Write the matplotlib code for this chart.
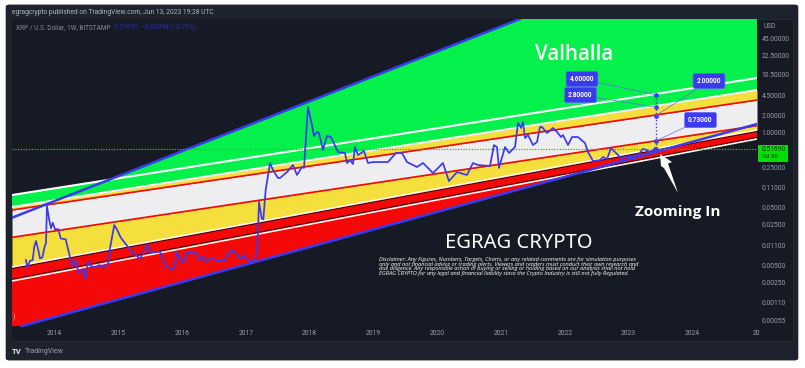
import matplotlib
matplotlib.use('Agg')
import matplotlib.pyplot as plt
from matplotlib.patches import FancyBboxPatch, Rectangle

# weekly close
years = [2013.553, 2013.574, 2013.616, 2013.658, 2013.683, 2013.710, 2013.746, 2013.773, 2013.809, 2013.851,
         2013.867, 2013.882, 2013.918, 2013.945, 2013.972, 2014.008, 2014.060, 2014.097, 2014.176, 2014.216,
         2014.254, 2014.285, 2014.337, 2014.373, 2014.451, 2014.478, 2014.530, 2014.567, 2014.635, 2014.702,
         2014.776, 2014.843, 2014.870, 2014.937, 2014.984, 2015.038, 2015.132, 2015.210, 2015.340, 2015.392,
         2015.455, 2015.497, 2015.654, 2015.732, 2015.837, 2015.889, 2015.915, 2016.019, 2016.072, 2016.202,
         2016.270, 2016.332, 2016.386, 2016.437, 2016.542, 2016.672, 2016.708, 2016.787, 2016.881, 2016.934,
         2016.959, 2017.038, 2017.127, 2017.179, 2017.205, 2017.248, 2017.273, 2017.310, 2017.378, 2017.425,
         2017.503, 2017.534, 2017.644, 2017.738, 2017.801, 2017.879, 2017.911, 2017.973, 2018.036, 2018.067,
         2018.114, 2018.146, 2018.208, 2018.271, 2018.334, 2018.444, 2018.553, 2018.585, 2018.632, 2018.679,
         2018.710, 2018.757, 2018.851, 2018.914, 2018.992, 2019.227, 2019.353, 2019.447, 2019.525, 2019.682,
         2019.776, 2019.933, 2020.088, 2020.183, 2020.309, 2020.465, 2020.559, 2020.638, 2020.826, 2020.889,
         2020.936, 2020.967, 2021.061, 2021.124, 2021.218, 2021.265, 2021.312, 2021.343, 2021.375, 2021.422,
         2021.500, 2021.563, 2021.610, 2021.641, 2021.720, 2021.813, 2021.876, 2021.939, 2021.971, 2022.049,
         2022.112, 2022.205, 2022.315, 2022.362, 2022.440, 2022.550, 2022.597, 2022.660, 2022.723, 2022.754,
         2022.832, 2022.879, 2023.052, 2023.146, 2023.224, 2023.286, 2023.334, 2023.412]
prices = [0.00610, 0.00456, 0.00591, 0.00610, 0.0104, 0.0131, 0.00912, 0.00650, 0.00677, 0.0110,
          0.0119, 0.0533, 0.0304, 0.0218, 0.0273, 0.0210, 0.0210, 0.0145, 0.0140, 0.00912,
          0.00610, 0.00481, 0.00610, 0.00367, 0.00409, 0.00281, 0.00582, 0.00481, 0.00456, 0.00500,
          0.00456, 0.00534, 0.00974, 0.0249, 0.0203, 0.0151, 0.0110, 0.00852, 0.00650, 0.00797,
          0.0114, 0.00818, 0.00852, 0.00500, 0.00419, 0.00462, 0.00852, 0.00534, 0.00818, 0.00852,
          0.00610, 0.00696, 0.00567, 0.00650, 0.00610, 0.00591, 0.00776, 0.00912, 0.00696, 0.00650,
          0.00745, 0.00610, 0.00567, 0.00852, 0.0634, 0.0325, 0.0312, 0.101, 0.299, 0.226,
          0.164, 0.164, 0.208, 0.276, 0.185, 0.255, 0.245, 2.83, 1.37, 0.883,
          1.04, 0.996, 0.504, 0.883, 0.848, 0.465, 0.447, 0.299, 0.337, 0.287,
          0.568, 0.412, 0.484, 0.299, 0.311, 0.311, 0.447, 0.447, 0.311, 0.255,
          0.299, 0.200, 0.299, 0.145, 0.208, 0.185, 0.299, 0.276, 0.265, 0.615,
          0.568, 0.245, 0.568, 0.447, 0.568, 1.49, 1.22, 1.55, 0.815, 0.919,
          0.615, 0.694, 1.27, 1.27, 0.996, 1.22, 1.04, 0.848, 0.919, 0.615,
          0.848, 0.848, 0.667, 0.465, 0.324, 0.337, 0.380, 0.351, 0.545, 0.504,
          0.412, 0.366, 0.396, 0.412, 0.524, 0.504, 0.447, 0.545]

left_year, right_year = 2013.334, 2025.011
low_price, top_price = 0.000247, 96.5

# channel lines, price at the left and right edge of the plot
white1 = [0.0828, 9.04]
white2 = [0.0512, 5.59]
red1 = [0.0454, 3.74]
red2 = [0.01518, 1.34]
white3 = [0.00461, 1.123]
black3 = [0.00434, 1.057]
black4 = [0.00284, 0.832]
white4 = [0.00263, 0.783]

upper_blue_years = [2013.334, 2021.296]
upper_blue_prices = [0.0333, 96.5]
lower_blue_years = [2013.491, 2025.011]
lower_blue_prices = [0.000432, 1.429]

# where the top white line meets the upper channel line / white4 meets the lower one
green_kink = (2014.854, 0.151)
red_kink = (2022.268, 0.206)

target_year = 2023.428
target_prices = [4.6, 2.8, 2.0, 0.73, 0.5169]
target_labels = ['4.60000', '2.80000', '2.00000', '0.73000']
target_label_px = [(582, 79), (580.5, 95), (709, 81), (700.5, 120)]

arrow_years = [2023.491, 2023.679, 2023.616, 2023.773, 2023.553, 2023.506]
arrow_prices = [0.429, 0.311, 0.293, 0.0897, 0.245, 0.265]

price_ticks = [45, 22.5, 10.5, 4.5, 2, 1, 0.25, 0.11, 0.05, 0.025, 0.011, 0.005, 0.0025, 0.0011, 0.00055]
price_labels = ['45.00000', '22.50000', '10.50000', '4.50000', '2.00000', '1.00000', '0.25000', '0.11000',
                '0.05000', '0.02500', '0.01100', '0.00500', '0.00250', '0.00110', '0.00055']
year_ticks = [2014, 2015, 2016, 2017, 2018, 2019, 2020, 2021, 2022, 2023, 2024, 2025]
year_labels = ['2014', '2015', '2016', '2017', '2018', '2019', '2020', '2021', '2022', '2023', '2024', '20']
last_price = 0.5169

disclaimer = ('Disclaimer: Any Figures, Numbers, Targets, Charts, or any related comments are for simulation purposes\n'
              'only and not financial advice or trading alerts. Viewers and readers must conduct their own research and\n'
              'due diligence. Any responsible action in buying or selling or holding based on our analysis shall not hold\n'
              'EGRAG CRYPTO for any legal and financial liability since the Crypto Industry is still not fully Regulated.')

W, H = 805, 368
BLUE = '#3a3af0'
CARD = '#1e222d'
PANEL = '#161a25'
TICK = '#9a9da6'


def fx(x):
    return x / W


def fy(y):
    return 1 - y / H


plt.rcParams['font.family'] = ['Roboto', 'DejaVu Sans']
fig = plt.figure(figsize=(W / 100, H / 100), dpi=100, facecolor='white')

card = FancyBboxPatch((fx(8), fy(359)), fx(788), 353 / H, boxstyle='round,pad=0.002,rounding_size=0.004',
                      transform=fig.transFigure, facecolor=CARD, edgecolor=CARD, zorder=-3)
fig.add_artist(card)
fig.add_artist(Rectangle((fx(12), fy(341)), fx(781), 322 / H, transform=fig.transFigure,
                         facecolor=PANEL, edgecolor='#2a2e39', linewidth=0.5, zorder=-2))

ax = fig.add_axes([fx(12), fy(340), fx(745), 321 / H])
ax.set_facecolor(PANEL)
ax.set_yscale('log')
ax.set_xlim(left_year, right_year)
ax.set_ylim(low_price, top_price)
edges = [left_year, right_year]

# bands, top to bottom
ax.fill([left_year, green_kink[0], upper_blue_years[1], right_year, right_year, left_year],
        [white1[0], green_kink[1], top_price, top_price, white2[1], white2[0]], color='#04f04a', lw=0, zorder=1)
ax.fill_between(edges, white2, red1, color='#f5df3c', lw=0, zorder=2)
ax.fill_between(edges, red1, red2, color='#eeeef1', lw=0, zorder=2)
ax.fill_between(edges, red2, white3, color='#f5df3c', lw=0, zorder=2)
ax.fill([left_year, right_year, right_year, red_kink[0], lower_blue_years[0], left_year],
        [white3[0], white3[1], white4[1], red_kink[1], lower_blue_prices[0], lower_blue_prices[0]],
        color='#f40808', lw=0, zorder=2)

for line, color, width in [(white1, 'white', 1.5), (white2, 'white', 1.4), (red1, '#f40808', 1.2),
                           (red2, '#f40808', 1.2), (black3, '#101010', 0.6), (white3, 'white', 1.1),
                           (black4, '#101010', 0.6), (white4, 'white', 1.1)]:
    ax.plot(edges, line, color=color, lw=width, zorder=3, solid_capstyle='butt')
ax.plot(upper_blue_years, upper_blue_prices, color=BLUE, lw=1.8, zorder=4)
ax.plot(lower_blue_years, lower_blue_prices, color=BLUE, lw=1.8, zorder=4)

ax.axhline(last_price, color='#12c832', lw=0.9, ls=(0, (1, 1.2)), zorder=5)
ax.plot(years, prices, color=BLUE, lw=1.25, zorder=6)

ax.plot([target_year] * 5, target_prices, color=BLUE, lw=1, ls=(0, (1, 1.5)), marker='o', ms=2.4, zorder=7)
for label, price, pos in zip(target_labels, target_prices, target_label_px):
    ax.annotate(label, xy=(target_year, price), xytext=(pos[0], H - pos[1]), textcoords='figure pixels',
                ha='center', va='center', color='white', fontsize=4.8, fontweight='bold', zorder=8,
                bbox=dict(boxstyle='round,pad=0.55,rounding_size=0.3', fc=BLUE, ec='#6a6af5', lw=0.4),
                arrowprops=dict(arrowstyle='-', color='#6a6af0', lw=0.5, shrinkA=0, shrinkB=0))

ax.fill(arrow_years, arrow_prices, color='white', lw=0, zorder=8)

for side in ['top', 'left', 'right', 'bottom']:
    ax.spines[side].set_visible(False)
ax.yaxis.tick_right()
ax.set_yticks(price_ticks)
ax.set_yticklabels(price_labels, color=TICK, fontsize=4.9)
ax.tick_params(axis='y', length=0, pad=3.5)
ax.set_xticks(year_ticks)
ax.set_xticklabels(year_labels, color=TICK, fontsize=4.9)
ax.tick_params(axis='x', length=0, pad=-7)
ax.minorticks_off()

# header, footer
fig.text(fx(12), fy(12.5), 'egragcrypto published on TradingView.com, Jun 13, 2023 19:28 UTC',
         color='#b2b5be', fontsize=4.8, va='center')
fig.text(fx(16), fy(27.5), 'XRP / U.S. Dollar, 1W, BITSTAMP', color='#8a8d96', fontsize=4.7, va='center')
fig.text(fx(114), fy(27.5), '0.51690  \u22120.00394 (\u22120.76%)', color='#2a2ea8', fontsize=4.7, va='center')
fig.text(fx(12), fy(351.5), 'TV', color='#d1d4dc', fontsize=5.4, fontweight='black', va='center')
fig.text(fx(24.5), fy(351.5), 'TradingView', color='#9a9da6', fontsize=5.0, va='center')
fig.text(fx(12.5), fy(317), ')', color='#f5c8c8', fontsize=5, va='center', zorder=9)

# price axis
fig.text(fx(763), fy(26), 'USD', color=TICK, fontsize=4.8, va='center')
fig.add_artist(Rectangle((fx(757.5), fy(162)), fx(30), 17 / H, transform=fig.transFigure,
                         facecolor='#00e000', edgecolor='none', zorder=5))
fig.text(fx(762), fy(149.5), '0.51690', color='#10301a', fontsize=4.9, va='center', zorder=6)
fig.text(fx(762), fy(157), '5d 5h', color='#10301a', fontsize=4.6, va='center', zorder=6)

# drawn captions
fig.text(fx(574), fy(54), 'Valhalla', color='white', fontsize=14.8, fontweight='semibold', family='Open Sans',
         ha='center', va='center', zorder=9)
fig.text(fx(519), fy(243.5), 'EGRAG CRYPTO', color='white', fontsize=14.5, family='Noto Sans',
         ha='center', va='center', zorder=9)
fig.text(fx(678), fy(212), 'Zooming In', color='white', fontsize=11, fontweight='bold', family='Open Sans',
         ha='center', va='center', zorder=9)
fig.text(fx(379), fy(266.5), disclaimer, color='white', fontsize=4.1, style='italic', family='Open Sans',
         ha='left', va='center', linespacing=0.98, zorder=9)

fig.savefig('out.png', dpi=100, facecolor='white')
